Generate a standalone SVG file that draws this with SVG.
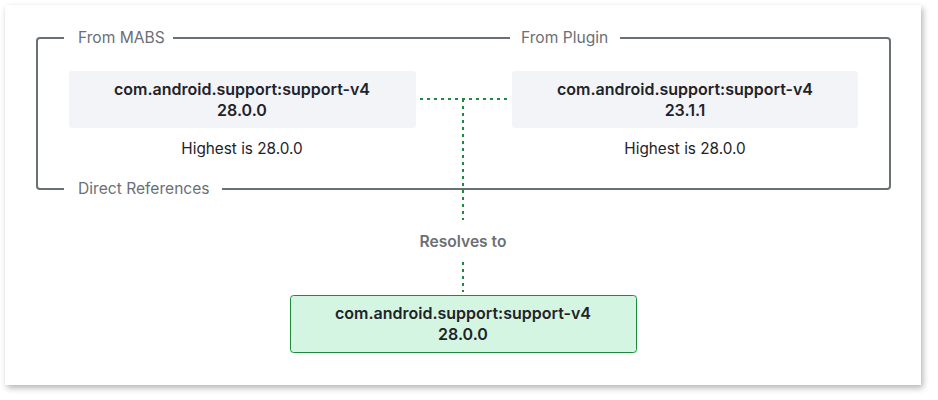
<svg xmlns="http://www.w3.org/2000/svg" width="938" height="400" viewBox="0 0 938 400">
<defs>
<filter id="sh" x="-5%" y="-5%" width="110%" height="115%">
<feGaussianBlur in="SourceAlpha" stdDeviation="3"/>
<feOffset dx="2" dy="3"/>
<feComponentTransfer><feFuncA type="linear" slope="0.3"/></feComponentTransfer>
<feMerge><feMergeNode/><feMergeNode in="SourceGraphic"/></feMerge>
</filter>
</defs>
<style>
.t{font-family:Inter,"Noto Sans",sans-serif;font-size:15.3px;text-anchor:middle;fill:#1f2329}
.b{font-weight:600;font-size:16px}
.lbl{font-family:Inter,"Noto Sans",sans-serif;font-size:15.6px;fill:#6b6f76}
.frame{fill:none;stroke:#6b6f76;stroke-width:2}
.box{fill:#f3f4f8}
.conn{fill:none;stroke:#1e8a3e;stroke-width:2;stroke-dasharray:3 4}
</style>
<rect width="938" height="400" fill="#ffffff"/>
<rect x="5" y="5" width="916" height="380" fill="#ffffff" filter="url(#sh)"/>
<g id="frame">
<path class="frame" d="M64 38 H40 Q37 38 37 41 V186 Q37 189 40 189 H64"/>
<path class="frame" d="M173 38 H510"/>
<path class="frame" d="M620 38 H887 Q890 38 890 41 V186 Q890 189 887 189 H222"/>
<text class="lbl" x="78" y="43">From MABS</text>
<text class="lbl" x="521" y="43">From Plugin</text>
<text class="lbl" x="78" y="194">Direct References</text>
</g>
<g id="connectors">
<path class="conn" d="M420 99 H508"/>
<path class="conn" d="M463 99 V220"/>
<path class="conn" d="M463 262 V292"/>
<text class="lbl" x="463" y="247" text-anchor="middle" font-weight="600">Resolves to</text>
</g>
<g id="mabs">
<rect class="box" x="69" y="71" width="347" height="57" rx="3"/>
<text class="t b" x="242" y="95">com.android.support:support-v4</text>
<text class="t b" x="242" y="116">28.0.0</text>
<text class="t" x="242" y="154">Highest is 28.0.0</text>
</g>
<g id="plugin">
<rect class="box" x="512" y="71" width="346" height="57" rx="3"/>
<text class="t b" x="685" y="95">com.android.support:support-v4</text>
<text class="t b" x="685" y="116">23.1.1</text>
<text class="t" x="685" y="154">Highest is 28.0.0</text>
</g>
<g id="resolved">
<rect x="290.5" y="295.5" width="346" height="57" rx="3" fill="#d5f5e3" stroke="#1e8a3e" stroke-width="1"/>
<text class="t b" x="463" y="319">com.android.support:support-v4</text>
<text class="t b" x="463" y="340">28.0.0</text>
</g>
</svg>
